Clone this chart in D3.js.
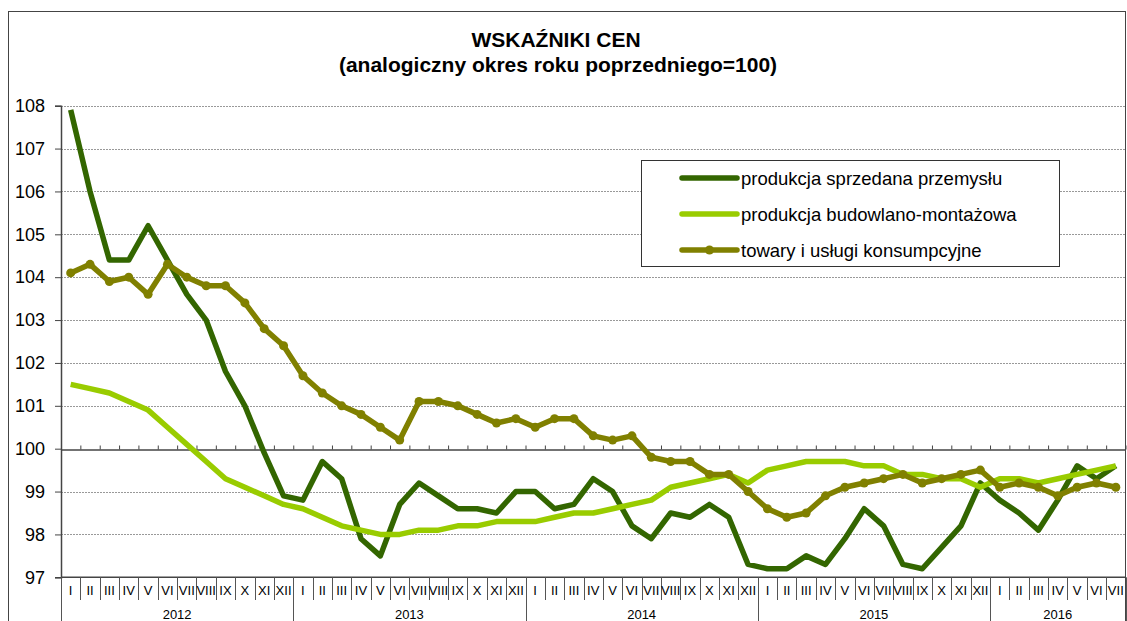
<!DOCTYPE html>
<html>
<head>
<meta charset="utf-8">
<script src="https://cdn.jsdelivr.net/npm/d3@7"></script>
<style>
  body { margin: 0; background: #fff; }
  svg { display: block; font-family: "Liberation Sans", Arial, sans-serif; }
</style>
</head>
<body>
<script>
// Data (monthly, 2012 I .. 2016 VII)
const years = ["2012", "2013", "2014", "2015", "2016"];
const months = ["I", "II", "III", "IV", "V", "VI", "VII", "VIII", "IX", "X", "XI", "XII"];
const monthsInYear = [12, 12, 12, 12, 7];

const przemyslu = [
  107.9, 106.0, 104.4, 104.4, 105.2, 104.4, 103.6, 103.0, 101.8, 101.0, 99.9, 98.9,
  98.8, 99.7, 99.3, 97.9, 97.5, 98.7, 99.2, 98.9, 98.6, 98.6, 98.5, 99.0,
  99.0, 98.6, 98.7, 99.3, 99.0, 98.2, 97.9, 98.5, 98.4, 98.7, 98.4, 97.3,
  97.2, 97.2, 97.5, 97.3, 97.9, 98.6, 98.2, 97.3, 97.2, 97.7, 98.2, 99.2,
  98.8, 98.5, 98.1, 98.8, 99.6, 99.3, 99.6
];
const budowlano = [
  101.5, 101.4, 101.3, 101.1, 100.9, 100.5, 100.1, 99.7, 99.3, 99.1, 98.9, 98.7,
  98.6, 98.4, 98.2, 98.1, 98.0, 98.0, 98.1, 98.1, 98.2, 98.2, 98.3, 98.3,
  98.3, 98.4, 98.5, 98.5, 98.6, 98.7, 98.8, 99.1, 99.2, 99.3, 99.4, 99.2,
  99.5, 99.6, 99.7, 99.7, 99.7, 99.6, 99.6, 99.4, 99.4, 99.3, 99.3, 99.1,
  99.3, 99.3, 99.2, 99.3, 99.4, 99.5, 99.6
];
const towary = [
  104.1, 104.3, 103.9, 104.0, 103.6, 104.3, 104.0, 103.8, 103.8, 103.4, 102.8, 102.4,
  101.7, 101.3, 101.0, 100.8, 100.5, 100.2, 101.1, 101.1, 101.0, 100.8, 100.6, 100.7,
  100.5, 100.7, 100.7, 100.3, 100.2, 100.3, 99.8, 99.7, 99.7, 99.4, 99.4, 99.0,
  98.6, 98.4, 98.5, 98.9, 99.1, 99.2, 99.3, 99.4, 99.2, 99.3, 99.4, 99.5,
  99.1, 99.2, 99.1, 98.9, 99.1, 99.2, 99.1
];
const yTicks = [97, 98, 99, 100, 101, 102, 103, 104, 105, 106, 107, 108];

const seriesNames = [
  "produkcja sprzedana przemysłu",
  "produkcja budowlano-montażowa",
  "towary i usługi konsumpcyjne"
];
const seriesColors = ["#336600", "#99cc00", "#808000"];

const width = 1127, height = 621;
const plotLeft = 61, plotRight = 1125.5, plotTop = 105.7, plotBottom = 577.3;
const nMonths = d3.sum(monthsInYear);

const svg = d3.select("body").append("svg")
    .attr("width", width)
    .attr("height", height);

// outer frame
svg.append("rect")
    .attr("x", 8.5).attr("y", 11.5)
    .attr("width", plotRight - 8.5).attr("height", 700)
    .attr("fill", "none").attr("stroke", "#444").attr("stroke-width", 1);

// scales
const x = d3.scaleLinear().domain([0, nMonths]).range([plotLeft, plotRight]);
const y = d3.scaleLinear().domain([97, 108]).range([plotBottom, plotTop]);

// gridlines
svg.append("g").selectAll("line")
    .data(yTicks.filter(d => d !== 97 && d !== 100))
    .enter().append("line")
    .attr("x1", plotLeft).attr("x2", plotRight)
    .attr("y1", d => Math.round(y(d)) + 0.5).attr("y2", d => Math.round(y(d)) + 0.5)
    .attr("stroke", "#999").attr("stroke-dasharray", "2,1");

// y axis
const yAxis = svg.append("g")
    .attr("transform", `translate(${plotLeft},0)`)
    .call(d3.axisLeft(y).tickValues(yTicks).tickSize(6).tickPadding(10).tickFormat(d3.format("d")));
yAxis.select(".domain").attr("stroke", "#444").attr("stroke-width", 1.5);
yAxis.selectAll(".tick line").attr("stroke", "#444");
yAxis.selectAll("text").attr("font-size", 18).attr("fill", "#000")
    .attr("font-family", "Liberation Sans, Arial, sans-serif");

// 100 line with small upward ticks
const midAxis = svg.append("g")
    .attr("transform", `translate(0,${Math.round(y(100)) + 0.5})`)
    .call(d3.axisTop(x).tickValues(d3.range(0, nMonths + 1)).tickSize(4).tickSizeOuter(0).tickFormat(""));
midAxis.select(".domain").attr("stroke", "#444").attr("stroke-width", 1.5);
midAxis.selectAll(".tick line").attr("stroke", "#444");

// bottom category area
svg.append("line")
    .attr("x1", plotLeft).attr("x2", plotRight)
    .attr("y1", plotBottom).attr("y2", plotBottom)
    .attr("stroke", "#444").attr("stroke-width", 1.5);

const monthData = [];
const yearStarts = [0];
years.forEach((yr, yi) => {
  for (let m = 0; m < monthsInYear[yi]; m++) monthData.push({ i: monthData.length, label: months[m] });
  yearStarts.push(yearStarts[yi] + monthsInYear[yi]);
});

svg.append("g").selectAll("line")
    .data(d3.range(1, nMonths))
    .enter().append("line")
    .attr("x1", d => Math.round(x(d)) + 0.5).attr("x2", d => Math.round(x(d)) + 0.5)
    .attr("y1", plotBottom).attr("y2", 600)
    .attr("stroke", "#555");

svg.append("g").selectAll("line")
    .data(yearStarts)
    .enter().append("line")
    .attr("x1", d => Math.round(x(d)) + 0.5).attr("x2", d => Math.round(x(d)) + 0.5)
    .attr("y1", plotBottom).attr("y2", height)
    .attr("stroke", "#555");

svg.append("g").selectAll("text")
    .data(monthData)
    .enter().append("text")
    .attr("x", d => x(d.i + 0.5))
    .attr("y", 590)
    .attr("text-anchor", "middle")
    .attr("dominant-baseline", "central")
    .attr("font-size", 13)
    .text(d => d.label);

svg.append("g").selectAll("text")
    .data(years)
    .enter().append("text")
    .attr("x", (d, i) => x((yearStarts[i] + yearStarts[i + 1]) / 2))
    .attr("y", 614)
    .attr("text-anchor", "middle")
    .attr("dominant-baseline", "central")
    .attr("font-size", 13)
    .text(d => d);

// lines
const line = d3.line()
    .x((d, i) => x(i + 0.5))
    .y(d => y(d));

[przemyslu, budowlano, towary].forEach((s, k) => {
  svg.append("path")
      .datum(s)
      .attr("fill", "none")
      .attr("stroke", seriesColors[k])
      .attr("stroke-width", 5.5)
      .attr("stroke-linejoin", "round")
      .attr("d", line);
});

svg.append("g").selectAll("circle")
    .data(towary)
    .enter().append("circle")
    .attr("cx", (d, i) => x(i + 0.5))
    .attr("cy", d => y(d))
    .attr("r", 4.5)
    .attr("fill", seriesColors[2]);

// legend
const legend = svg.append("g");
legend.append("rect")
    .attr("x", 641.5).attr("y", 160.5)
    .attr("width", 418).attr("height", 106)
    .attr("fill", "#fff").attr("stroke", "#333");

const rows = legend.selectAll("g.row")
    .data(seriesNames)
    .enter().append("g")
    .attr("class", "row")
    .attr("transform", (d, i) => `translate(0,${178 + i * 36})`);

rows.append("line")
    .attr("x1", 682).attr("x2", 737)
    .attr("stroke", (d, i) => seriesColors[i])
    .attr("stroke-width", 5.5)
    .attr("stroke-linecap", "round");

rows.filter((d, i) => i === 2).append("circle")
    .attr("cx", 709.5).attr("r", 4.5)
    .attr("fill", seriesColors[2]);

rows.append("text")
    .attr("x", 741)
    .attr("dominant-baseline", "central")
    .attr("font-size", 18.5)
    .text(d => d);

// title
svg.append("text")
    .attr("x", 556).attr("y", 47)
    .attr("text-anchor", "middle")
    .attr("font-size", 21).attr("font-weight", "bold")
    .text("WSKAŹNIKI CEN");
svg.append("text")
    .attr("x", 558).attr("y", 72)
    .attr("text-anchor", "middle")
    .attr("font-size", 21).attr("font-weight", "bold")
    .text("(analogiczny okres roku poprzedniego=100)");
</script>
</body>
</html>
